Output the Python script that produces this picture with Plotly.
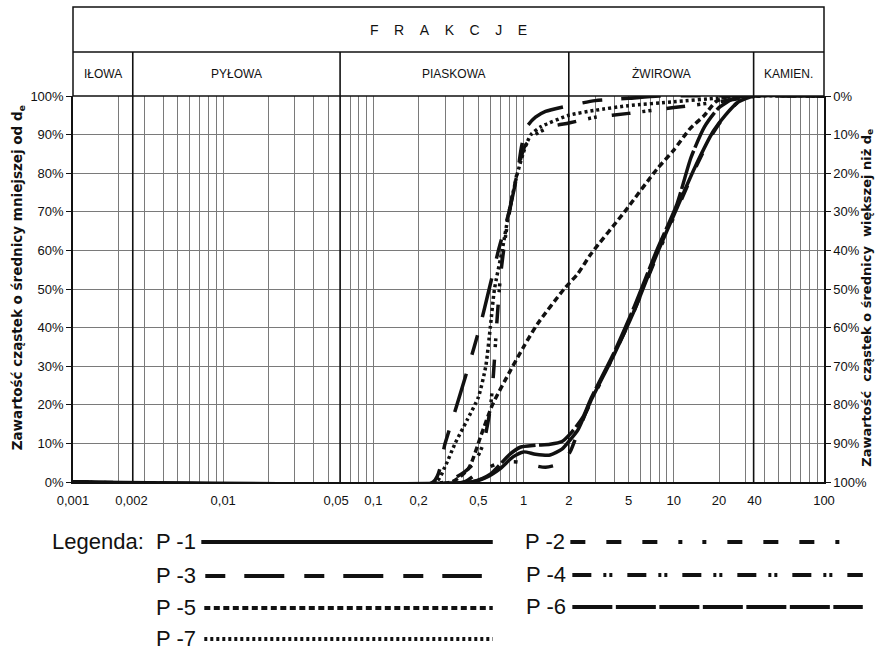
import numpy as np
import plotly.graph_objects as go

# ---------------- data: grain diameter d [mm] vs cumulative % finer ----------------
p1_d = [0.001, 0.45, 0.55, 0.7, 0.85, 1.0, 1.2, 1.5, 1.8, 2.0, 2.3, 2.8, 4.0, 5.4, 7.7, 10.5, 14, 18.4, 22, 27, 34, 100]
p1_v = [0, 0, 1, 3.5, 6.5, 7.8, 7.2, 7.0, 8.5, 10.5, 13.5, 21, 33, 44, 59, 71, 82, 91, 95, 98.5, 100, 100]

p2_d = [0.001, 0.4, 0.5, 0.7, 0.9, 1.1, 1.4, 1.8, 2.05, 2.3, 2.6, 3.0, 4.0, 5.4, 7.7, 10.5, 14, 18, 22, 27, 34, 100]
p2_v = [0, 0, 2.5, 5, 5.2, 4.5, 3.8, 5, 8, 13, 18, 23, 33, 44, 58.5, 70.5, 81.5, 90, 95, 98.5, 100, 100]

p3_d = [0.001, 0.25, 0.3, 0.36, 0.43, 0.51, 0.59, 0.68, 0.8, 0.91, 0.97, 1.05, 1.2, 1.4, 2.0, 3.0, 5.0, 8.0, 100]
p3_v = [0, 0, 10, 20, 30, 40, 50, 60, 70, 80, 87, 92, 94.5, 96, 97.5, 98.8, 99.4, 100, 100]

p4_d = [0.001, 0.3, 0.4, 0.47, 0.54, 0.6, 0.63, 0.66, 0.7, 0.76, 0.84, 0.93, 1.02, 1.2, 1.5, 2.0, 3.0, 5.0, 10, 20, 30, 36, 100]
p4_v = [0, 0, 2.5, 5, 10, 19, 28, 40, 53, 64, 74, 82, 87, 90, 92, 93, 94.5, 95.5, 97, 98.5, 99.6, 100, 100]

p5_d = [0.001, 0.33, 0.43, 0.52, 0.62, 0.82, 1.0, 1.24, 1.86, 2.3, 2.8, 4.7, 7.7, 10, 12.8, 16, 19, 24, 100]
p5_v = [0, 0, 3.5, 12, 20, 29, 35, 41, 50, 54, 59, 70, 81, 86, 91.5, 95, 98.5, 100, 100]

p6_d = [0.001, 0.45, 0.6, 0.8, 0.95, 1.2, 1.5, 1.8, 2.1, 2.5, 2.8, 4.0, 5.4, 7.7, 10.5, 13, 16, 20, 25, 32, 100]
p6_v = [0, 0, 2, 7, 9, 9.5, 9.8, 10.5, 13, 17, 21.5, 33.5, 45, 60, 72, 84, 92, 97, 99.3, 100, 100]

p7_d = [0.001, 0.26, 0.3, 0.35, 0.42, 0.5, 0.56, 0.6, 0.64, 0.72, 0.8, 0.91, 1.03, 1.12, 1.3, 2.0, 3.0, 5.0, 10, 20, 30, 100]
p7_v = [0, 0, 4, 10, 16, 22, 30, 40, 50, 60, 70, 80, 87, 90, 92, 95, 96.3, 97.5, 98.5, 99.5, 100, 100]

series_names = ["P -1", "P -2", "P -3", "P -4", "P -5", "P -6", "P -7"]

# fraction boundaries as drawn on the sheet, and fraction names
frac_bounds = [0.001, 0.0025, 0.06, 2, 34, 100]
frac_names = ["IŁOWA", "PYŁOWA", "PIASKOWA", "ŻWIROWA", "KAMIEN."]

# x tick labels (positions as printed)
x_tick_vals = [0.001, 0.00245, 0.01, 0.0565, 0.1, 0.2, 0.5, 1, 2, 5, 10, 20, 34.5, 100]
x_tick_text = ["0,001", "0,002", "0,01", "0,05", "0,1", "0,2", "0,5", "1", "2", "5", "10", "20", "40", "100"]

# minor grid: 1..9 x each decade
grid_vals = [m * 10.0 ** e for e in range(-3, 2) for m in range(1, 10)] + [100]
pct_ticks = list(range(0, 101, 10))

# ---------------- styles ----------------
FONT = "Liberation Sans, Arial, sans-serif"
TFONT = "DejaVu Sans, Liberation Sans, sans-serif"
INK = "#111111"
GRID = "#7a7a7a"
dashes = {
    "P -1": "solid",
    "P -2": "15px,21px,15px,21px,15px,21px,4px,20px,4px,21px",
    "P -3": "20px,19px,40px,20px",
    "P -4": "19px,12px,3px,3px,3px,15px",
    "P -5": "6px,3.5px",
    "P -6": "40px,3.5px",
    "P -7": "3px,3px",
}

W, H = 879, 650
ML, MR, MT, MB = 73, 51, 96, 168
PW, PH = W - ML - MR, H - MT - MB


def pxx(x):
    return (x - ML) / PW


def pyy(y):
    return (H - MB - y) / PH


fig = go.Figure()
data = [(p1_d, p1_v), (p2_d, p2_v), (p3_d, p3_v), (p4_d, p4_v), (p5_d, p5_v), (p6_d, p6_v), (p7_d, p7_v)]
for name, (d, v) in zip(series_names, data):
    fig.add_trace(go.Scatter(
        x=d, y=v, mode="lines", name=name,
        line=dict(color=INK, width=3.5, dash=dashes[name], shape="spline", smoothing=0.6),
        hoverinfo="skip", showlegend=False,
    ))

# empty trace to activate the right-hand axis
fig.add_trace(go.Scatter(x=[None], y=[None], yaxis="y2", showlegend=False, hoverinfo="skip"))

shapes = []
# header box
shapes.append(dict(type="rect", xref="paper", yref="paper", x0=0, x1=1, y0=1, y1=pyy(7),
                   line=dict(color=INK, width=1.5)))
shapes.append(dict(type="line", xref="paper", yref="paper", x0=0, x1=1, y0=pyy(52), y1=pyy(52),
                   line=dict(color=INK, width=1.5)))
for b in frac_bounds[1:-1]:
    shapes.append(dict(type="line", xref="x", yref="paper", x0=b, x1=b, y0=0, y1=pyy(52),
                       line=dict(color=INK, width=1.6)))

NB = "\u00a0"
annotations = []
annotations.append(dict(text=(NB * 4).join("FRAKCJE"),
                        xref="paper", yref="paper", x=pxx(451), y=pyy(30),
                        xanchor="center", yanchor="middle", showarrow=False,
                        font=dict(family=FONT, size=14, color=INK)))
for a, b, nm in zip(frac_bounds[:-1], frac_bounds[1:], frac_names):
    annotations.append(dict(text=nm, xref="x", yref="paper",
                            x=(np.log10(a) + np.log10(b)) / 2, y=pyy(74),
                            xanchor="center", yanchor="middle", showarrow=False,
                            font=dict(family=FONT, size=12, color=INK)))

# axis titles
annotations.append(dict(text="<b>Zawartość cząstek o średnicy mniejszej od d<sub>e</sub></b>",
                        xref="paper", yref="paper", x=pxx(18), y=pyy(278), textangle=-90,
                        xanchor="center", yanchor="middle",
                        showarrow=False, font=dict(family=TFONT, size=13.5, color=INK)))
annotations.append(dict(text="<b>Zawartość" + NB * 2 + "cząstek o średnicy" + NB * 2 + "większej niż d<sub>e</sub></b>",
                        xref="paper", yref="paper", x=pxx(871), y=pyy(298), textangle=-90,
                        xanchor="center", yanchor="middle",
                        showarrow=False, font=dict(family=TFONT, size=13, color=INK)))

# custom legend
legend_rows = [
    ("Legenda:" + NB * 2 + "P -1", "P -1", 199, 541, 202, 495),
    ("P -3", "P -3", 199, 575, 206, 484),
    ("P -5", "P -5", 199, 607, 205, 495),
    ("P -7", "P -7", 199, 638, 205, 495),
    ("P -2", "P -2", 570, 541, 573, 862),
    ("P -4", "P -4", 571, 574, 575, 867),
    ("P -6", "P -6", 571, 606, 575, 867),
]
for label, key, tx, ty, lx0, lx1 in legend_rows:
    annotations.append(dict(text=label, xref="paper", yref="paper", x=pxx(tx), y=pyy(ty),
                            xanchor="right", yanchor="middle", showarrow=False,
                            font=dict(family=FONT, size=22, color=INK)))
    shapes.append(dict(type="line", xref="paper", yref="paper", x0=pxx(lx0), x1=pxx(lx1),
                       y0=pyy(ty + 1), y1=pyy(ty + 1),
                       line=dict(color=INK, width=4, dash=dashes[key])))

fig.update_layout(
    width=W, height=H,
    margin=dict(l=ML, r=MR, t=MT, b=MB, pad=0),
    paper_bgcolor="white", plot_bgcolor="white",
    showlegend=False,
    font=dict(family=FONT, color=INK),
    shapes=shapes, annotations=annotations,
    xaxis=dict(
        type="log", range=[-3, 2],
        tickmode="array", tickvals=x_tick_vals, ticktext=x_tick_text,
        showgrid=False, ticks="", ticklabelstandoff=6,
        tickfont=dict(family=FONT, size=13, color=INK),
        showline=True, linecolor=INK, linewidth=1.5,
        minor=dict(tickmode="array", tickvals=grid_vals, showgrid=True,
                   gridcolor=GRID, gridwidth=1, ticks=""),
        zeroline=False,
    ),
    yaxis=dict(
        range=[0, 100], tickmode="array", tickvals=pct_ticks,
        ticktext=[f"{t}%" for t in pct_ticks],
        showgrid=True, gridcolor=GRID, gridwidth=1,
        ticks="outside", ticklen=5, tickcolor=INK,
        tickfont=dict(family=FONT, size=13, color=INK),
        showline=True, linecolor=INK, linewidth=1.5, zeroline=False,
    ),
    yaxis2=dict(
        overlaying="y", side="right", range=[100, 0], tickmode="array", tickvals=pct_ticks,
        ticktext=[f"{t}%" for t in pct_ticks],
        showgrid=False, ticks="outside", ticklen=5, tickcolor=INK,
        tickfont=dict(family=FONT, size=13, color=INK),
        showline=True, linecolor=INK, linewidth=1.5, zeroline=False,
    ),
)

fig.write_html("out.html", config={"displayModeBar": False},
               post_script="document.body.style.margin='0px';document.body.style.overflow='hidden';")
